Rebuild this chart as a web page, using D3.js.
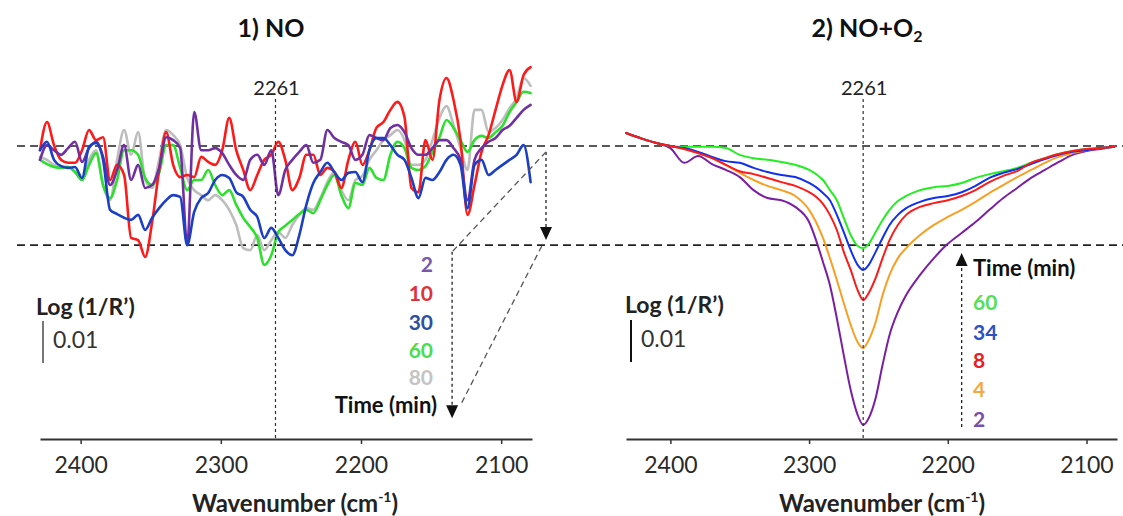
<!DOCTYPE html>
<html>
<head>
<meta charset="utf-8">
<script src="https://cdn.jsdelivr.net/npm/d3@7"></script>
<style>
  body { margin: 0; background: #fff; }
  svg { display: block; font-family: Lato, "Open Sans", sans-serif; }
</style>
</head>
<body>
<div id="chart"></div>
<script>
// ---- data (Log(1/R') offsets in units of 0.001) ----

// panel 1: NO, wavenumber grid (cm-1)
const noWavenumbers = [2429,2424,2419,2414,2409,2404,2399,2394,2389,2384,2379,2374,2369,2364,2359,2354,2349,2344,2339,2334,
  2329,2324,2319,2314,2309,2304,2299,2294,2289,2284,2279,2274,2269,2264,2259,2254,2249,2244,2239,2234,
  2229,2224,2219,2214,2209,2204,2199,2194,2189,2184,2179,2174,2169,2164,2159,2154,2149,2144,2139,2134,
  2129,2124,2119,2114,2109,2104,2099,2094,2089,2084,2079];

const no2min = [-3.3,0.2,-1.0,-2.1,-0.5,1.0,-3.8,-0.5,1.0,-2.6,-9.3,-5.7,0.2,-8.1,-4.5,-10.0,-9.3,-5.2,2.1,1.4,
  -0.5,-23.6,8.1,-1.0,-1.0,-0.5,-1.7,-4.5,-6.9,-8.1,-3.3,-2.1,-4.5,-1.0,-11.7,-5.7,-3.3,-1.4,0.2,-4.0,
  -3.3,3.8,1.9,1.0,0.2,-3.3,-2.1,2.6,1.9,1.4,4.3,5.0,3.3,-0.5,-2.1,-2.1,-0.5,1.4,1.4,-0.5,
  -3.3,-12.9,-3.3,-0.5,1.0,1.9,3.8,4.8,6.7,8.6,9.8];
const no10min = [-1.0,5.7,0.2,-3.3,-4.0,-4.0,-1.0,3.8,1.4,2.1,-8.1,-4.5,-6.9,-21.9,-22.4,-26.4,-18.1,-5.7,3.3,-4.5,
  -7.4,-6.9,-7.4,-2.6,-3.8,-4.5,-1.0,6.7,-1.0,-5.7,-10.5,-6.9,-3.3,-2.1,1.0,-3.3,-10.5,-7.6,-2.1,-2.1,
  -6.9,-5.2,-6.2,-10.0,-3.3,1.0,-4.5,-1.0,4.3,5.7,8.6,10.5,6.9,-10.0,-11.0,1.4,-3.3,11.0,16.2,11.0,
  1.4,-16.4,-9.3,-1.4,2.6,8.6,14.5,18.1,10.5,16.9,18.8];
const no30min = [-1.0,1.0,-3.3,-4.8,-5.2,-5.0,-7.6,-0.2,0.7,-3.3,-15.2,-16.2,-17.1,-17.6,-16.4,-20.0,-17.1,-14.8,-12.9,-11.7,
  -12.1,-23.6,-15.7,-12.4,-11.2,-8.1,-6.9,-7.6,-11.0,-12.1,-15.2,-16.9,-21.9,-19.5,-21.9,-24.8,-26.0,-21.2,-14.0,-8.8,
  -6.2,-4.0,-6.2,-8.1,-6.4,-6.2,-8.6,-1.0,1.9,1.9,0.2,-2.1,-3.3,-7.6,-12.4,-7.6,-8.1,-6.2,-3.3,-2.1,
  -4.5,-14.8,-4.5,-3.3,-6.9,-5.7,-4.5,-3.3,-2.1,0.2,-8.6];
const no60min = [-3.3,-4.3,-5.0,-5.2,-5.0,-6.2,-8.1,-4.5,-1.7,-9.3,-12.4,-8.1,-1.0,-1.0,-2.1,-7.6,-9.3,-6.4,0.2,0.2,
  -5.2,-10.5,-8.1,-8.1,-5.7,-9.3,-11.7,-10.5,-14.0,-17.1,-19.3,-21.9,-28.3,-26.0,-20.5,-19.0,-17.6,-16.2,-15.2,-16.0,
  -12.9,-9.3,-6.9,-11.7,-14.8,-8.8,-9.3,-5.2,-7.6,-8.1,-2.1,1.0,-0.5,-5.2,-5.7,-4.8,-1.4,2.1,6.2,4.3,
  1.4,-1.4,1.4,2.4,1.9,3.3,4.8,8.1,10.5,12.9,12.6];
const no80min = [-2.6,-3.3,-4.5,-4.8,-5.0,-6.2,-8.1,-3.3,-1.0,-9.3,-12.9,-3.3,3.8,-2.1,3.3,-8.1,-10.0,-3.3,3.8,2.6,
  0.2,-7.6,-10.5,-11.7,-12.9,-11.7,-12.9,-15.2,-18.8,-24.3,-24.8,-21.2,-24.8,-22.4,-20.5,-21.9,-18.8,-16.4,-14.8,-15.2,
  -12.4,-8.6,-6.2,-10.5,-12.9,-8.1,-7.1,-3.3,-1.0,1.4,2.6,3.8,1.4,-4.5,-4.5,-3.3,1.4,6.7,9.5,5.0,
  -0.5,-5.7,8.6,8.6,3.3,4.3,6.2,9.0,11.4,16.2,14.3];

// panel 2: NO+O2, wavenumber grid (cm-1)
const o2Wavenumbers = [2432,2420,2410,2400,2390,2380,2370,2360,2350,2340,2330,2320,2310,2300,2295,2290,2285,2280,2275,2270,
  2265,2261,2257,2252,2247,2242,2236,2230,2220,2210,2200,2190,2180,2170,2160,2150,2140,2130,2120,2110,
  2100,2090,2080];

const o2_2min = [3.1,1.7,0.7,-0.5,-4.0,-2.4,-4.3,-5.7,-7.4,-10.5,-12.4,-12.9,-14.5,-18.1,-22.4,-27.6,-33.1,-41.0,-49.8,-58.1,
  -64.0,-66.4,-64.8,-60.0,-52.1,-45.0,-39.5,-35.5,-30.7,-26.7,-23.3,-20.7,-18.1,-15.2,-12.4,-10.0,-7.6,-5.7,-3.8,-2.1,
  -1.2,-0.7,-0.2];
const o2_4min = [3.1,1.7,0.7,0,-0.7,-1.7,-2.9,-4.5,-6.4,-8.1,-9.5,-10.5,-11.9,-15.2,-18.1,-21.9,-26.7,-31.9,-37.4,-42.6,
  -46.7,-48.1,-46.2,-41.9,-35.5,-30.7,-26.7,-24.3,-21.2,-18.8,-16.9,-15.2,-13.3,-11.2,-9.3,-7.4,-5.7,-4.0,-2.6,-1.7,
  -1.0,-0.5,-0.2];
const o2_8min = [3.1,1.7,0.7,0,-0.7,-1.7,-2.9,-4.5,-6.0,-6.7,-7.6,-8.6,-9.5,-11.0,-12.1,-13.8,-16.4,-20.0,-25.2,-29.5,
  -34.3,-36.7,-35.0,-31.4,-26.7,-22.4,-18.8,-16.4,-14.5,-13.6,-12.9,-11.9,-10.5,-8.6,-7.1,-6.0,-4.0,-2.9,-1.9,-1.2,
  -0.7,-0.5,-0.2];
const o2_34min = [3.1,1.7,0.7,0,-0.5,-1.4,-2.6,-3.6,-4.0,-5.2,-6.2,-6.9,-7.4,-8.8,-9.8,-11.2,-12.9,-16.4,-20.5,-24.8,
  -28.3,-29.5,-28.3,-25.2,-21.9,-18.8,-16.4,-14.8,-13.3,-12.4,-11.9,-11.0,-9.5,-7.6,-6.4,-5.5,-4.3,-3.1,-2.1,-1.4,
  -1.0,-0.5,-0.2];
const o2_60min = [3.1,1.7,0.7,0,-0.2,-0.2,-0.2,-0.5,-2.1,-2.9,-3.3,-3.8,-4.5,-5.7,-6.7,-8.1,-10.5,-12.9,-17.1,-21.2,
  -23.8,-24.3,-23.3,-20.5,-17.6,-15.2,-13.1,-11.9,-10.5,-9.8,-9.5,-8.8,-7.6,-6.7,-6.0,-5.2,-4.0,-2.9,-1.9,-1.2,
  -0.7,-0.5,-0.2];

const tickValues = [2400, 2300, 2200, 2100];
const markerWn = 2261;
const refLevels = [0, -23.6];
const noTimes = ["2", "10", "30", "60", "80"];
const o2Times = ["60", "34", "8", "4", "2"];

// ---- colours ----
const noColors = {"2": "#7030a0", "10": "#ff1a1a", "30": "#1c3fc4", "60": "#2ee02e", "80": "#bdbdbd"};
const noLabelColors = {"2": "#7a58a8", "10": "#e0303a", "30": "#2f4e9f", "60": "#4cdd4c", "80": "#c4c4c4"};
const o2Colors = {"2": "#7b1fa2", "4": "#f7a023", "8": "#ff1a1a", "34": "#1030f0", "60": "#22ee22"};
const o2LabelColors = {"2": "#7a4fa8", "4": "#f5a742", "8": "#e82020", "34": "#2f50c0", "60": "#55e055"};

// ---- svg ----
const width = 1123, height = 516;
const svg = d3.select("#chart").append("svg")
    .attr("width", width)
    .attr("height", height);

// scales (0.01 Log(1/R') = 42 px)
const y = d3.scaleLinear().domain([0, 10]).range([146, 104]);
const xNO = d3.scaleLinear().domain([2429, 2078]).range([40, 532]);
const xO2 = d3.scaleLinear().domain([2432, 2078]).range([626, 1117]);
const axisY = 439;

// arrow head helper (tip at x, y)
function arrowHead(g, x, yTip, dir) {
    const h = 13 * dir, w = 6;
    g.append("path")
        .attr("d", `M${x},${yTip} L${x - w},${yTip - h} L${x + w},${yTip - h} Z`)
        .attr("fill", "#111");
}

function drawPanel(x, wn, seriesList, colors, width) {
    const g = svg.append("g");
    const line = d3.line()
        .x((d, i) => x(wn[i]))
        .y(d => y(d))
        .curve(d3.curveMonotoneX);

    seriesList.forEach(s => {
        g.append("path")
            .datum(s.values)
            .attr("d", line)
            .attr("fill", "none")
            .attr("stroke", colors[s.key])
            .attr("stroke-width", width)
            .attr("stroke-linejoin", "round")
            .attr("stroke-linecap", "round");
    });

    // x axis
    const ax = g.append("g")
        .attr("transform", `translate(0,${axisY})`)
        .call(d3.axisBottom(x).tickValues(tickValues).tickFormat(d3.format("d"))
            .tickSize(5).tickSizeOuter(0).tickPadding(13));
    ax.select(".domain").attr("stroke", "#333").attr("stroke-width", 1.8);
    ax.selectAll(".tick line").attr("stroke", "#333").attr("stroke-width", 1.5);
    ax.selectAll(".tick text").attr("font-size", 23).attr("fill", "#2a2a2a")
        .attr("font-family", "Lato, sans-serif");

    // 2261 marker
    g.append("line")
        .attr("x1", x(markerWn)).attr("x2", x(markerWn))
        .attr("y1", 99).attr("y2", axisY)
        .attr("stroke", "#333").attr("stroke-width", 1.2)
        .attr("stroke-dasharray", "3,3");
    g.append("text")
        .attr("x", x(markerWn) + 1).attr("y", 95)
        .attr("text-anchor", "middle")
        .attr("font-size", 20).attr("fill", "#222")
        .text(markerWn);
    return g;
}

// reference dashed levels across the whole figure
refLevels.forEach(v => {
    svg.append("line")
        .attr("x1", 17).attr("x2", width)
        .attr("y1", y(v)).attr("y2", y(v))
        .attr("stroke", "#222").attr("stroke-width", 1.6)
        .attr("stroke-dasharray", "8,5");
});

// ---- panel 1 ----
const gNO = drawPanel(xNO, noWavenumbers, [
    {key: "80", values: no80min},
    {key: "60", values: no60min},
    {key: "10", values: no10min},
    {key: "2", values: no2min},
    {key: "30", values: no30min}
], noColors, 2.6);

// ---- panel 2 ----
const gO2 = drawPanel(xO2, o2Wavenumbers, [
    {key: "2", values: o2_2min},
    {key: "4", values: o2_4min},
    {key: "60", values: o2_60min},
    {key: "34", values: o2_34min},
    {key: "8", values: o2_8min}
], o2Colors, 2);

// titles
svg.append("text")
    .attr("x", 271).attr("y", 37)
    .attr("text-anchor", "middle")
    .attr("font-size", 25).attr("font-weight", "bold").attr("fill", "#111")
    .text("1) NO");
const t2 = svg.append("text")
    .attr("x", 867).attr("y", 37)
    .attr("text-anchor", "middle")
    .attr("font-size", 25).attr("font-weight", "bold").attr("fill", "#111");
t2.append("tspan").text("2) NO+O");
t2.append("tspan").attr("font-size", 16).attr("dy", 5).text("2");

// axis titles
[295, 882].forEach(cx => {
    const t = svg.append("text")
        .attr("x", cx).attr("y", 512)
        .attr("text-anchor", "middle")
        .attr("font-size", 24).attr("font-weight", "bold").attr("fill", "#222");
    t.append("tspan").text("Wavenumber (cm");
    t.append("tspan").attr("font-size", 14).attr("dy", -10).text("-1");
    t.append("tspan").attr("dy", 10).text(")");
});

// scale bars
function scaleBar(xText, yText, xBar, yBarTop, colour) {
    svg.append("text")
        .attr("x", xText).attr("y", yText)
        .attr("font-size", 23).attr("font-weight", "bold").attr("fill", "#222")
        .text("Log (1/R\u2019)");
    svg.append("line")
        .attr("x1", xBar).attr("x2", xBar)
        .attr("y1", yBarTop).attr("y2", yBarTop + (y(0) - y(10)))
        .attr("stroke", colour).attr("stroke-width", 2);
    svg.append("text")
        .attr("x", xBar + 10).attr("y", yBarTop + 27)
        .attr("font-size", 23).attr("fill", "#333")
        .text("0.01");
}
scaleBar(36, 315, 43, 321, "#777");
scaleBar(625, 313, 631, 320, "#111");

// ---- legend panel 1 ----
noTimes.forEach((t, i) => {
    svg.append("text")
        .attr("x", 433).attr("y", [272, 301, 330, 358, 385][i])
        .attr("text-anchor", "end")
        .attr("font-size", 21).attr("font-weight", "bold")
        .attr("fill", noLabelColors[t])
        .text(t);
});
svg.append("text")
    .attr("x", 437).attr("y", 413)
    .attr("text-anchor", "end")
    .attr("font-size", 22).attr("font-weight", "bold").attr("fill", "#111")
    .text("Time (min)");

// perspective arrows of panel 1 (in data coordinates)
const arrowNO = {wnRight: 2068, wnLeft: 2135, wnRight2: 2071, wnLeft2: 2129};
const dotted = {"stroke": "#222", "stroke-width": 1.3, "stroke-dasharray": "3,3"};
const dashed = {"stroke": "#555", "stroke-width": 1.3, "stroke-dasharray": "6,4"};
function seg(x1, y1, x2, y2, st) {
    const l = svg.append("line").attr("x1", x1).attr("y1", y1).attr("x2", x2).attr("y2", y2);
    Object.entries(st).forEach(([k, v]) => l.attr(k, v));
}
seg(xNO(arrowNO.wnRight), y(-1.4), xNO(arrowNO.wnRight), y(-19.5), dotted);
arrowHead(svg, xNO(arrowNO.wnRight), y(-22.4), 1);
seg(xNO(arrowNO.wnRight), y(-1.4), xNO(arrowNO.wnLeft), y(-25.2), dashed);
seg(xNO(arrowNO.wnLeft), y(-25.2), xNO(arrowNO.wnLeft), y(-61.7), dotted);
arrowHead(svg, xNO(arrowNO.wnLeft), y(-64.8), 1);
seg(xNO(arrowNO.wnRight2), y(-23.8), xNO(arrowNO.wnLeft2), y(-61.7), dashed);

// ---- legend panel 2 ----
svg.append("text")
    .attr("x", 973).attr("y", 276)
    .attr("font-size", 22).attr("font-weight", "bold").attr("fill", "#111")
    .text("Time (min)");
o2Times.forEach((t, i) => {
    svg.append("text")
        .attr("x", 973).attr("y", [310, 340, 368, 397, 427][i])
        .attr("font-size", 21).attr("font-weight", "bold")
        .attr("fill", o2LabelColors[t])
        .text(t);
});
const arrowO2 = 2190;
seg(xO2(arrowO2), y(-66.9), xO2(arrowO2), y(-28.6), dotted);
arrowHead(svg, xO2(arrowO2), y(-25.5), -1);
</script>
</body>
</html>
